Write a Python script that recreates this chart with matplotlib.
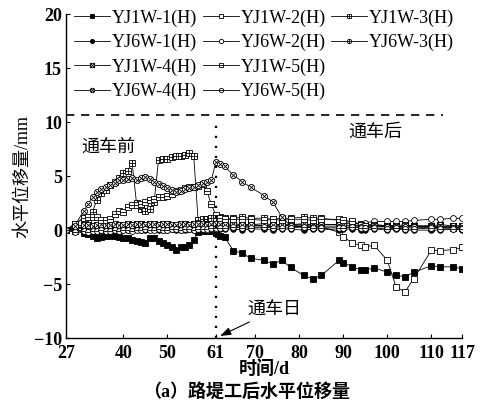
import matplotlib

matplotlib.use("Agg")

import matplotlib.pyplot as plt
from matplotlib.lines import Line2D
from matplotlib.path import Path

plt.rcParams["font.family"] = ["Liberation Serif", "Noto Sans CJK SC"]
plt.rcParams["axes.unicode_minus"] = True

days = [27, 29, 31, 32, 33, 34, 35, 36, 37, 38,
        39, 40, 41, 42, 43, 44, 45, 46, 47, 48,
        49, 50, 51, 52, 53, 54, 55, 56, 57, 58,
        59, 60, 61, 62, 63, 65, 67, 69, 72, 74,
        76, 78, 81, 83, 85, 89, 90, 92, 94, 95,
        97, 100, 102, 104, 106, 110, 112, 115, 117]

yj1w_1 = [0.0, -0.1, -0.3, -0.4, -0.5, -0.7, -0.6, -0.5, -0.5, -0.5,
          -0.6, -0.7, -0.7, -0.9, -1.0, -1.1, -1.2, -0.7, -0.75, -1.0,
          -1.2, -1.4, -1.6, -1.85, -1.6, -1.55, -1.4, -0.9, -0.2, -0.1,
          -0.1, -0.1, -0.3, -0.55, -0.65, -1.9, -2.15, -2.6, -2.8, -3.15,
          -2.8, -3.45, -4.2, -4.5, -4.2, -2.8, -3.0, -3.4, -3.7, -3.7,
          -3.5, -3.9, -4.2, -4.3, -3.9, -3.3, -3.4, -3.4, -3.6]
yj1w_2 = [0.0, 0.2, 0.3, 0.3, 0.2, 0.3, 0.4, 0.3, 0.3, 0.4,
          0.3, 0.3, 0.4, 0.3, 0.3, 0.4, 0.4, 0.3, 0.3, 0.4,
          0.3, 0.3, 0.3, 0.2, 0.2, 0.3, 0.3, 0.3, 0.4, 0.4,
          0.5, 0.5, 0.5, 0.4, 0.4, 0.5, 0.4, 0.4, 0.4, 0.3,
          0.4, 0.4, 0.3, 0.3, 0.3, -0.2, -0.6, -1.2, -1.4, -1.55,
          -1.4, -2.8, -5.3, -5.7, -4.5, -1.85, -1.9, -1.8, -1.6]
yj1w_3 = [0.0, 0.6, 1.1, 1.0, 1.7, 2.8, 3.4, 3.7, 4.2, 4.5,
          4.8, 5.3, 5.5, 6.2, 2.5, 2.0, 1.8, 2.0, 2.6, 6.5,
          6.6, 6.6, 6.8, 6.85, 6.9, 7.0, 7.1, 6.85, 0.9, 1.0,
          1.0, 1.1, 1.1, 1.2, 1.1, 1.1, 1.2, 1.1, 1.1, 1.0,
          1.1, 1.1, 1.2, 1.1, 1.1, 0.9, 0.8, 0.7, 0.6, 0.5,
          0.5, 0.4, 0.4, 0.3, 0.3, 0.4, 0.3, 0.3, 0.2]
yj6w_1 = [0.0, -0.1, 0.0, -0.1, 0.0, -0.1, 0.0, 0.0, 0.1, 0.0,
          0.0, 0.1, 0.0, 0.0, 0.1, 0.0, 0.0, 0.1, 0.1, 0.0,
          0.0, 0.0, 0.1, 0.0, 0.0, 0.0, 0.1, 0.0, 0.0, 0.1,
          0.0, 0.0, 0.0, 0.1, 0.1, 0.1, 0.0, 0.1, 0.1, 0.0,
          0.1, 0.1, 0.0, 0.1, 0.1, 0.0, 0.1, 0.1, 0.0, 0.0,
          0.1, 0.0, 0.1, 0.0, 0.0, 0.0, 0.0, 0.1, 0.0]
yj6w_2 = [0.0, 0.1, 0.2, 0.2, 0.1, 0.2, 0.2, 0.1, 0.2, 0.2,
          0.1, 0.2, 0.2, 0.1, 0.2, 0.2, 0.2, 0.1, 0.2, 0.2,
          0.1, 0.2, 0.2, 0.1, 0.1, 0.1, 0.1, 0.1, 0.1, 0.1,
          0.0, 0.1, 0.1, 0.2, 0.3, 0.3, 0.3, 0.4, 0.4, 0.4,
          0.4, 0.5, 0.5, 0.5, 0.5, 0.5, 0.6, 0.6, 0.6, 0.7,
          0.8, 0.8, 0.8, 0.8, 0.9, 1.0, 1.0, 1.1, 1.1]
yj6w_3 = [0.0, 0.2, 0.3, 0.3, 0.4, 0.3, 0.4, 0.4, 0.3, 0.4,
          0.4, 0.3, 0.4, 0.4, 0.4, 0.3, 0.4, 0.4, 0.3, 0.4,
          0.4, 0.4, 0.3, 0.3, 0.4, 0.4, 0.3, 0.4, 0.4, 0.4,
          0.3, 0.4, 0.4, 0.5, 0.5, 0.4, 0.5, 0.5, 0.4, 0.5,
          0.5, 0.4, 0.4, 0.5, 0.5, 0.5, 0.4, 0.4, 0.4, 0.3,
          0.4, 0.4, 0.3, 0.4, 0.4, 0.3, 0.3, 0.4, 0.3]
yj1w_4 = [0.0, 0.3, 0.5, 0.5, 0.4, 0.5, 0.6, 0.5, 0.5, 0.6,
          0.5, 0.5, 0.6, 0.5, 0.6, 0.6, 0.5, 0.6, 0.6, 0.5,
          0.6, 0.6, 0.5, 0.5, 0.6, 0.6, 0.5, 0.6, 0.6, 0.6,
          0.5, 0.6, 0.6, 0.6, 0.5, 0.6, 0.5, 0.5, 0.6, 0.5,
          0.5, 0.5, 0.6, 0.5, 0.5, 0.5, 0.5, 0.4, 0.5, 0.4,
          0.5, 0.4, 0.4, 0.5, 0.4, 0.4, 0.5, 0.4, 0.4]
yj1w_5 = [0.0, 0.6, 1.1, 1.2, 1.2, 1.2, 0.9, 0.9, 1.0, 1.5,
          1.8, 1.7, 2.1, 2.3, 2.3, 2.4, 2.6, 2.8, 2.9, 3.1,
          3.1, 3.2, 3.35, 3.6, 3.7, 3.9, 4.0, 4.0, 4.1, 4.3,
          3.6, 2.4, 1.4, 1.1, 1.0, 1.0, 1.0, 1.0, 0.9, 1.0,
          0.9, 1.0, 1.0, 0.9, 1.0, 1.0, 0.9, 0.8, 0.5, 0.4,
          0.4, 0.3, 0.3, 0.4, 0.3, 0.2, 0.3, 0.2, 0.2]
yj6w_4 = [0.0, 0.4, 1.8, 2.4, 3.1, 3.5, 3.8, 4.0, 4.2, 4.4,
          4.6, 4.6, 4.7, 4.8, 4.6, 4.8, 4.9, 4.7, 4.5, 4.3,
          4.1, 3.9, 3.7, 3.55, 3.65, 3.8, 3.9, 4.0, 4.2, 4.4,
          4.5, 4.6, 6.3, 6.1, 5.9, 5.1, 4.5, 3.95, 3.2, 2.6,
          1.2, 0.4, 0.3, 0.3, 0.3, 0.3, 0.2, 0.3, 0.3, 0.2,
          0.3, 0.3, 0.2, 0.3, 0.3, 0.3, 0.2, 0.2, 0.2]
yj6w_5 = [0.0, -0.2, -0.1, -0.2, -0.1, -0.1, 0.0, -0.1, -0.1, 0.0,
          -0.1, 0.0, 0.0, -0.1, 0.0, 0.0, 0.1, 0.0, 0.0, 0.1,
          0.0, 0.0, 0.1, 0.1, 0.0, 0.1, 0.1, 0.0, 0.1, 0.1,
          0.1, 0.2, 0.2, 0.2, 0.2, 0.3, 0.2, 0.2, 0.3, 0.2,
          0.2, 0.2, 0.3, 0.2, 0.2, 0.2, 0.2, 0.3, 0.2, 0.2,
          0.2, 0.1, 0.2, 0.1, 0.1, 0.2, 0.1, 0.1, 0.1]

x_ticks = [27, 40, 50, 61, 70, 80, 90, 100, 110, 117]
y_ticks = [-10, -5, 0, 5, 10, 15, 20]


def _marker(shape: str, inner: str) -> Path:
    if shape == "square":
        outer = Path([(-1, -1), (1, -1), (1, 1), (-1, 1), (-1, -1)],
                     [Path.MOVETO, Path.LINETO, Path.LINETO, Path.LINETO, Path.CLOSEPOLY])
        r = 1.0
    else:
        outer = Path.unit_circle()
        r = 0.7071
    segs = {
        "plus": [[(-1, 0), (1, 0)], [(0, -1), (0, 1)]],
        "cross": [[(-r, -r), (r, r)], [(-r, r), (r, -r)]],
        "minus": [[(-1, 0), (1, 0)]],
    }[inner]
    return Path.make_compound_path(outer, *[Path(s) for s in segs])


series = [
    ("YJ1W-1(H)", yj1w_1, "s", "black", 4.8),
    ("YJ1W-2(H)", yj1w_2, "s", "white", 4.0),
    ("YJ1W-3(H)", yj1w_3, _marker("square", "plus"), "white", 4.4),
    ("YJ6W-1(H)", yj6w_1, "o", "black", 4.0),
    ("YJ6W-2(H)", yj6w_2, "o", "white", 4.2),
    ("YJ6W-3(H)", yj6w_3, _marker("circle", "plus"), "white", 4.2),
    ("YJ1W-4(H)", yj1w_4, _marker("square", "cross"), "white", 4.2),
    ("YJ1W-5(H)", yj1w_5, _marker("square", "minus"), "white", 4.4),
    ("YJ6W-4(H)", yj6w_4, _marker("circle", "cross"), "white", 4.4),
    ("YJ6W-5(H)", yj6w_5, _marker("circle", "minus"), "white", 4.2),
]

fig = plt.figure(figsize=(4.86, 4.03), dpi=100)
ax = fig.add_axes([0.136, 0.161, 0.815, 0.804])

handles = {}
for label, values, marker, face, size in series:
    (line,) = ax.plot(days, values, color="black", linewidth=0.6, marker=marker,
                      markersize=size, markerfacecolor=face, markeredgecolor="black",
                      markeredgewidth=0.6, label=label)
    handles[label] = line

ax.plot([27, 112.7], [10.7, 10.7], color="black", linewidth=1.2, linestyle=(0, (5, 4)), clip_on=False)
ax.plot([61, 61], [-10, 10.4], color="black", linewidth=1.6, linestyle=(0, (1, 3.5)))

ax.text(36.5, 7.7, "通车前", fontsize=13, ha="center", va="center")
ax.text(97.2, 9.1, "通车后", fontsize=13, ha="center", va="center")
ax.annotate("通车日", xy=(62, -9.8), xytext=(74.3, -7.4), fontsize=13, ha="center", va="center",
            arrowprops=dict(arrowstyle="-|>,head_length=0.5,head_width=0.18", color="black",
                            linewidth=0.8, shrinkA=1, shrinkB=0))

ax.set_xlim(27, 117)
ax.set_ylim(-10, 20)
ax.set_xticks(x_ticks)
ax.set_yticks(y_ticks)
for spine in ("top", "right"):
    ax.spines[spine].set_visible(False)
for spine in ("left", "bottom"):
    ax.spines[spine].set_linewidth(1.0)
ax.tick_params(direction="in", length=3, width=0.8, labelsize=13)
ax.tick_params(axis="x", pad=5)
ax.tick_params(axis="y", pad=3)
for tick in ax.get_xticklabels() + ax.get_yticklabels():
    tick.set_fontweight("bold")
ax.set_xlabel("时间/d", fontsize=13, fontweight="bold", labelpad=-1)
ax.set_ylabel("水平位移量/mm", fontsize=13, labelpad=2)

blank = Line2D([], [], linestyle="none")
order = ["YJ1W-1(H)", "YJ6W-1(H)", "YJ1W-4(H)", "YJ6W-4(H)",
         "YJ1W-2(H)", "YJ6W-2(H)", "YJ1W-5(H)", "YJ6W-5(H)",
         "YJ1W-3(H)", "YJ6W-3(H)", None, None]
leg_handles = [handles[k] if k else blank for k in order]
leg_labels = [k if k else "" for k in order]
ax.legend(leg_handles, leg_labels, ncol=3, loc="upper left", bbox_to_anchor=(0.02, 1.015),
          frameon=False, fontsize=13, handlelength=2.0, handletextpad=0.1,
          columnspacing=0.3, labelspacing=0.4, borderaxespad=0, borderpad=0, markerscale=0.75)

fig.text(0.508, 1 - 392 / 403, "（a）路堤工后水平位移量", ha="center", va="center",
         fontsize=13, fontweight="bold")

fig.savefig("out.png", dpi=100)
plt.close(fig)
